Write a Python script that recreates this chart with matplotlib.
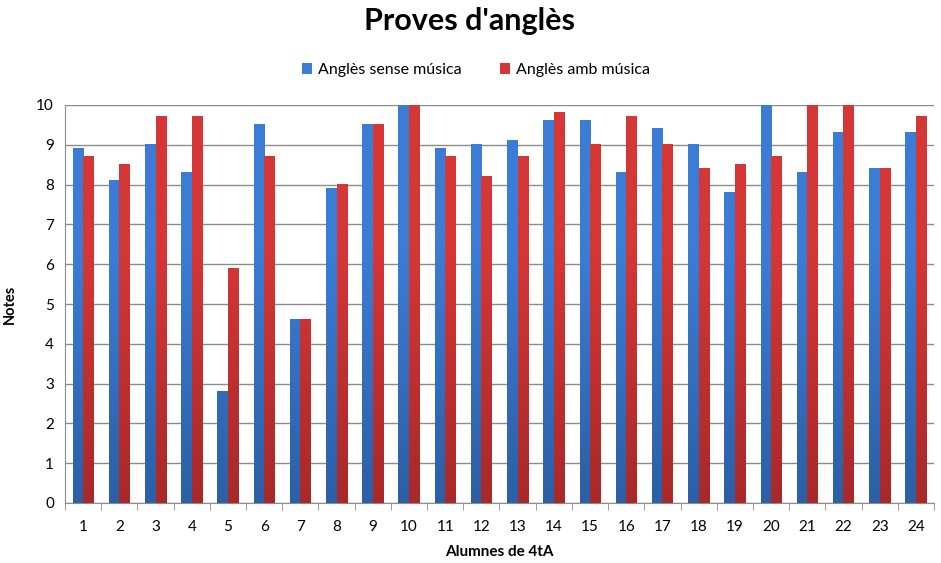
import matplotlib
matplotlib.use("Agg")
import matplotlib.pyplot as plt
import numpy as np
from matplotlib.colors import to_rgb

# Student numbers and scores
alumnes = [str(i) for i in range(1, 25)]
sense_musica = [8.9, 8.1, 9.0, 8.3, 2.8, 9.5, 4.6, 7.9, 9.5, 10.0, 8.9, 9.0,
                9.1, 9.6, 9.6, 8.3, 9.4, 9.0, 7.8, 10.0, 8.3, 9.3, 8.4, 9.3]
amb_musica = [8.7, 8.5, 9.7, 9.7, 5.9, 8.7, 4.6, 8.0, 9.5, 10.0, 8.7, 8.2,
              8.7, 9.8, 9.0, 9.7, 9.0, 8.4, 8.5, 8.7, 10.0, 10.0, 8.4, 9.7]
y_ticks = list(range(0, 11))

plt.rcParams['font.family'] = ['Lato', 'DejaVu Sans']

fig = plt.figure(figsize=(9.41, 5.63), dpi=100)
ax = fig.add_axes([65 / 941, 1 - 503 / 563, (934 - 65) / 941, (503 - 105) / 563])

x = np.arange(len(alumnes))
w = 0.29
blue_top, blue_bot = '#3B7CD6', '#2C5FA6'
red_top, red_bot = '#D53636', '#A82929'


def gradient_bars(xpos, heights, top, bottom, label):
    # draw bars, then fill each one with a vertical shade (darker near zero)
    bars = ax.bar(xpos, heights, width=w, color=top, label=label, zorder=3)
    c_top, c_bot = np.array(to_rgb(top)), np.array(to_rgb(bottom))
    for b, h in zip(bars, heights):
        t = np.linspace(0, h / 10.0, 64)[:, None]
        shade = np.clip(t * 1.6, 0, 1)
        img = (c_bot[None, :] * (1 - shade) + c_top[None, :] * shade)[:, None, :]
        x0 = b.get_x()
        ax.imshow(img, extent=[x0, x0 + b.get_width(), 0, h], origin='lower',
                  aspect='auto', zorder=3.5, interpolation='bilinear')
    return bars


gradient_bars(x - w / 2, sense_musica, blue_top, blue_bot, 'Anglès sense música')
gradient_bars(x + w / 2, amb_musica, red_top, red_bot, 'Anglès amb música')

ax.set_xlim(-0.5, len(alumnes) - 0.5)
ax.set_ylim(0, 10)
ax.set_yticks(y_ticks)
ax.set_yticklabels([str(v) for v in y_ticks], fontsize=11)
ax.yaxis.grid(True, color='#8c8c8c', linewidth=1.0, zorder=0)
ax.tick_params(axis='y', length=0, pad=8)

ax.set_xticks(x)
ax.set_xticklabels(alumnes, fontsize=11)
ax.set_xticks(np.arange(-0.5, len(alumnes) - 0.4, 1), minor=True)
ax.tick_params(axis='x', which='major', length=0, pad=12)
ax.tick_params(axis='x', which='minor', length=5, color='#8c8c8c', direction='out')

for side in ['top', 'right']:
    ax.spines[side].set_visible(False)
ax.spines['left'].set_color('#8c8c8c')
ax.spines['bottom'].set_color('#8c8c8c')

ax.set_xlabel('Alumnes de 4tA', fontsize=11, fontweight='bold', labelpad=8)
ax.set_ylabel('Notes', fontsize=10.5, fontweight='bold', labelpad=14)

fig.text(470 / 941, 1 - 21 / 563, "Proves d'anglès", fontsize=22, fontweight='bold',
         ha='center', va='center')
fig.legend(loc='center', bbox_to_anchor=(476 / 941, 1 - 70 / 563), ncol=2, frameon=False,
           fontsize=11.5, handlelength=0.6, handleheight=0.7, handletextpad=0.4,
           columnspacing=2.4)

fig.savefig('out.png', dpi=100, facecolor='white')
